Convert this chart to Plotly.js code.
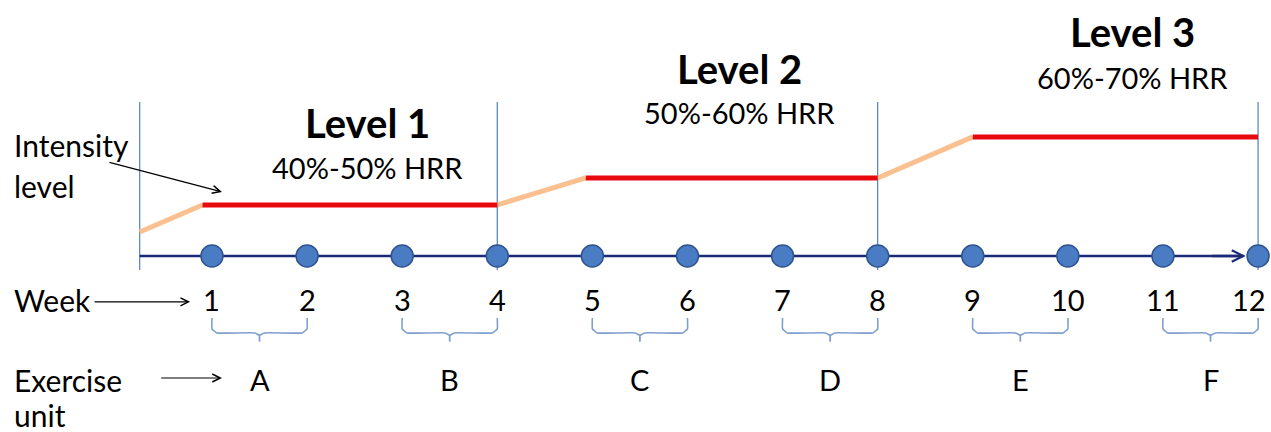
<!DOCTYPE html>
<html><head><meta charset="utf-8">
<script src="https://cdn.plot.ly/plotly-3.0.1.min.js"></script>
<style>html,body{margin:0;padding:0;background:#fff;}#chart{width:1271px;height:432px;}</style>
</head><body><div id="chart"></div>
<script>
// Data
const weeks = [1,2,3,4,5,6,7,8,9,10,11,12];
const weekLabels = ["1","2","3","4","5","6","7","8","9","10","11","12"];
const units = ["A","B","C","D","E","F"];
const unitWeeks = [[1,2],[3,4],[5,6],[7,8],[9,10],[11,12]];
const levelNames = ["Level 1","Level 2","Level 3"];
const levelHRR = ["40%-50% HRR","50%-60% HRR","60%-70% HRR"];
const levelBounds = [0.24, 4, 8, 12];
// intensity profile: ramp (orange) then plateau (red)
const rampX = [[0.24,0.9],[4,4.93],[8,9]];
const rampY = [[0.89,1.89],[1.89,2.89],[2.89,4.41]];
const plateauX = [[0.9,4],[4.93,8],[9,12]];
const plateauY = [[1.89,1.89],[2.89,2.89],[4.41,4.41]];
const levelLabelPos = [[2.64,4.93,3.27],[6.55,6.93,5.30],[10.68,8.30,6.61]]; // [x, titleY, hrrY]

const FONT = "Lato, 'Open Sans', sans-serif";
const traces = [];
// vertical separators
levelBounds.forEach(b => traces.push({x:[b,b], y:[-0.52,5.7], mode:'lines', line:{color:'#4f81bd', width:1.2}, hoverinfo:'skip', showlegend:false}));
// ramps
rampX.forEach((rx,i)=>traces.push({x:rx, y:rampY[i], mode:'lines', line:{color:'#fac090', width:5}, showlegend:false}));
// plateaus
plateauX.forEach((px,i)=>traces.push({x:px, y:plateauY[i], mode:'lines', line:{color:'#e8090f', width:5}, showlegend:false}));
// timeline
traces.push({x:[0.24, 11.85], y:[0,0], mode:'lines', line:{color:'#1a2a78', width:2.5}, showlegend:false});
// points
traces.push({x:weeks, y:weeks.map(()=>0), mode:'markers', marker:{size:22, color:'#4a7cc4', line:{color:'#2e548f', width:1.5}}, showlegend:false});
// braces
unitWeeks.forEach(([a,b])=>{
  const m=(a+b)/2, d=0.05;
  traces.push({x:[a, a, a+d, m-d, m, m, m, m+d, b-d, b, b], y:[-2.30,-2.70,-2.85,-2.85,-2.95,-3.18,-2.95,-2.85,-2.85,-2.70,-2.30], mode:'lines', line:{color:'#7f9fcf', width:1.6, shape:'spline', smoothing:0.3}, showlegend:false});
});

const ann = [];
levelNames.forEach((n,i)=>{
  ann.push({x:levelLabelPos[i][0], y:levelLabelPos[i][1], text:'<b>'+n+'</b>', showarrow:false, font:{family:FONT, size:40, color:'#000'}});
  ann.push({x:levelLabelPos[i][0], y:levelLabelPos[i][2], text:levelHRR[i], showarrow:false, font:{family:FONT, size:29, color:'#000'}});
});
weeks.forEach((w,i)=>ann.push({x:w, y:-1.63, text:weekLabels[i], showarrow:false, xshift:(i===11?-9:0), font:{family:FONT, size:29, color:'#000'}}));
unitWeeks.forEach(([a,b],i)=>ann.push({x:(a+b)/2, y:-4.59, text:units[i], showarrow:false, font:{family:FONT, size:29, color:'#000'}}));
// left labels
ann.push({x:-1.1, y:4.1, xanchor:'left', text:'Intensity', showarrow:false, font:{family:FONT, size:30, color:'#000'}});
ann.push({x:-1.1, y:2.6, xanchor:'left', text:'level', showarrow:false, font:{family:FONT, size:30, color:'#000'}});
ann.push({x:-1.1, y:-1.63, xanchor:'left', text:'Week', showarrow:false, font:{family:FONT, size:30, color:'#000'}});
ann.push({x:-1.1, y:-4.59, xanchor:'left', text:'Exercise', showarrow:false, font:{family:FONT, size:30, color:'#000'}});
ann.push({x:-1.1, y:-5.9, xanchor:'left', text:'unit', showarrow:false, font:{family:FONT, size:30, color:'#000'}});
// arrows
const arr = (x,y,ax,ay)=>({x:x,y:y,ax:ax,ay:ay,xref:'x',yref:'y',axref:'x',ayref:'y',text:'',showarrow:true,arrowhead:5,arrowsize:1.3,arrowwidth:1.2,arrowcolor:'#000'});
ann.push(arr(1.105,2.37,-0.094,3.48));
ann.push(arr(0.77,-1.70,-0.25,-1.70));
ann.push(arr(1.105,-4.52,0.45,-4.52));
// timeline arrowhead
ann.push({x:11.87,y:0,ax:11.5,ay:0,xref:'x',yref:'y',axref:'x',ayref:'y',text:'',showarrow:true,arrowhead:5,arrowsize:0.9,arrowwidth:2.5,arrowcolor:'#1a2a78'});

const layout = {
  width:1271, height:432, margin:{l:0,r:0,t:0,b:0},
  paper_bgcolor:'#fff', plot_bgcolor:'#fff', showlegend:false,
  xaxis:{range:[-1.229,12.136], visible:false, fixedrange:true},
  yaxis:{range:[-6.52,9.48], visible:false, fixedrange:true},
  annotations:ann
};
Plotly.newPlot('chart', traces, layout, {staticPlot:true, displayModeBar:false});
</script></body></html>
